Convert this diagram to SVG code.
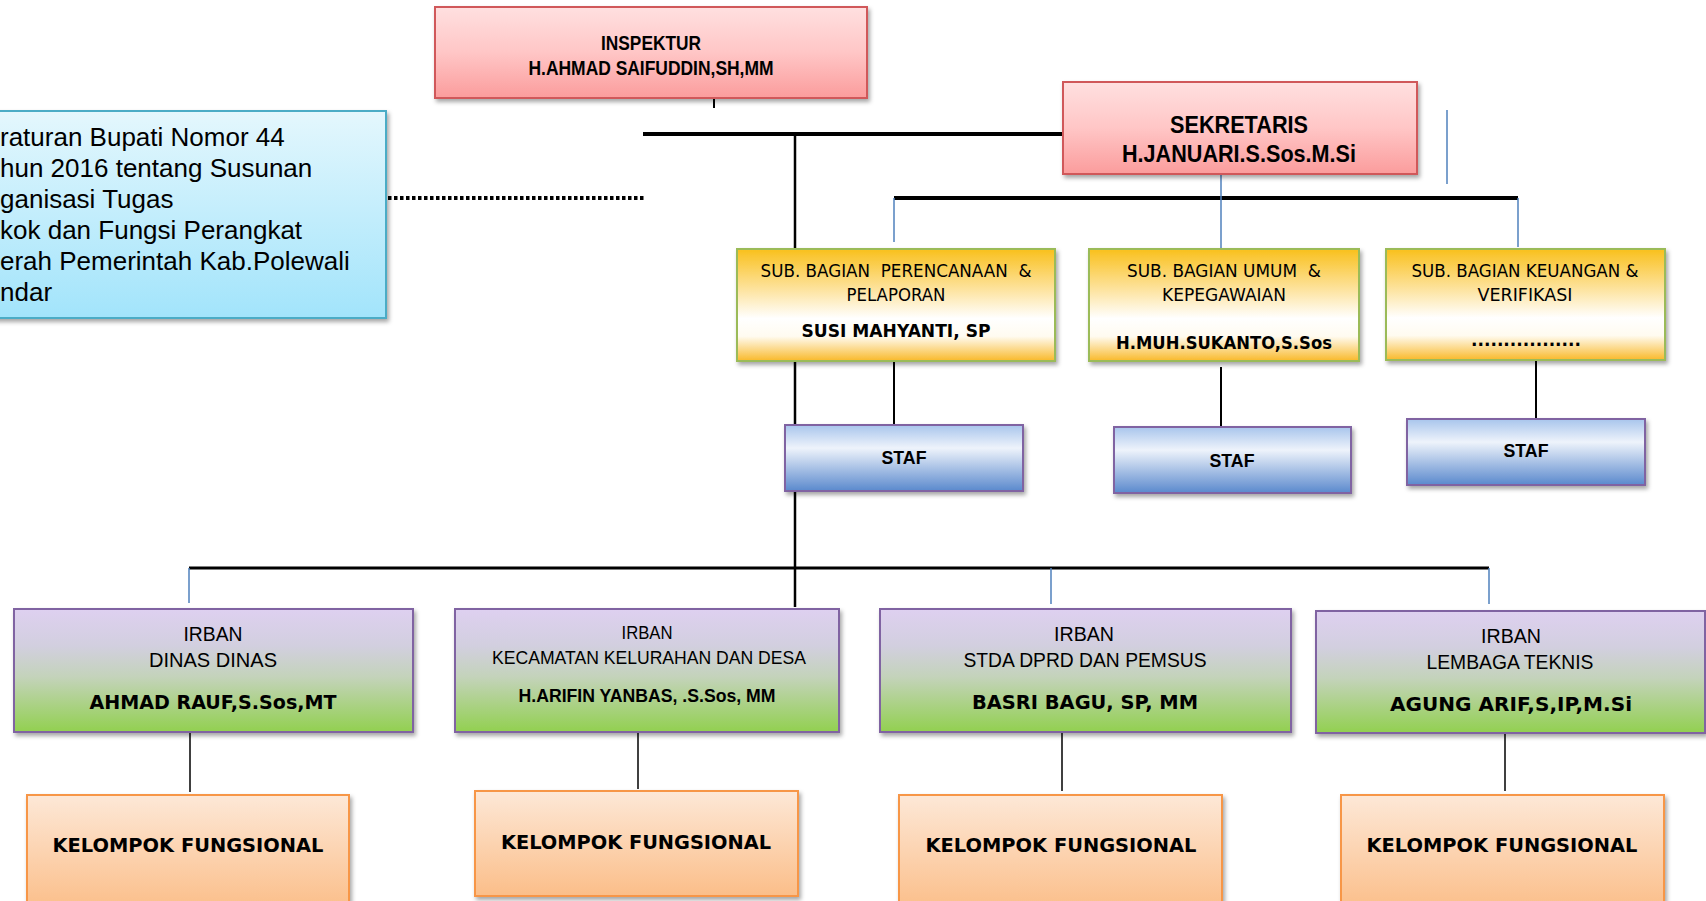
<svg xmlns="http://www.w3.org/2000/svg" width="1706" height="901" viewBox="0 0 1706 901">
<defs>
<linearGradient id="gPink" x1="0" y1="0" x2="0" y2="1"><stop offset="0" stop-color="#ffe0e0"/><stop offset="0.5" stop-color="#ffc6c6"/><stop offset="1" stop-color="#fb9c9c"/></linearGradient>
<linearGradient id="gCyan" x1="0" y1="0" x2="0" y2="1"><stop offset="0" stop-color="#e4f7fd"/><stop offset="1" stop-color="#a2e4fb"/></linearGradient>
<linearGradient id="gGold" x1="0" y1="0" x2="0" y2="1"><stop offset="0" stop-color="#f9c01c"/><stop offset="0.35" stop-color="#fde29a"/><stop offset="0.62" stop-color="#ffffff"/><stop offset="0.78" stop-color="#fffbf0"/><stop offset="1" stop-color="#f9b92a"/></linearGradient>
<linearGradient id="gBlue" x1="0" y1="0" x2="0" y2="1"><stop offset="0" stop-color="#a8c5ec"/><stop offset="0.35" stop-color="#eef3fb"/><stop offset="1" stop-color="#5a89cd"/></linearGradient>
<linearGradient id="gIrban" x1="0" y1="0" x2="0" y2="1"><stop offset="0" stop-color="#ded0f0"/><stop offset="0.3" stop-color="#d2cfdf"/><stop offset="0.55" stop-color="#c4d3bb"/><stop offset="1" stop-color="#92d050"/></linearGradient>
<linearGradient id="gPeach" x1="0" y1="0" x2="0" y2="1"><stop offset="0" stop-color="#fde8d7"/><stop offset="1" stop-color="#fbbe89"/></linearGradient>
<filter id="sh" x="-10%" y="-10%" width="120%" height="130%"><feDropShadow dx="2" dy="3" stdDeviation="2" flood-color="#000" flood-opacity="0.35"/></filter>
</defs>
<style>
.pink{fill:url(#gPink);stroke:#d0595a;stroke-width:2;filter:url(#sh)}
.cyan{fill:url(#gCyan);stroke:#4bacc6;stroke-width:2;filter:url(#sh)}
.gold{fill:url(#gGold);stroke:#9bbb59;stroke-width:2;filter:url(#sh)}
.blue{fill:url(#gBlue);stroke:#8064a2;stroke-width:2;filter:url(#sh)}
.irb{fill:url(#gIrban);stroke:#8064a2;stroke-width:2;filter:url(#sh)}
.peach{fill:url(#gPeach);stroke:#f79646;stroke-width:2;filter:url(#sh)}
text{fill:#000;text-anchor:middle}
.nb{font-family:"Liberation Sans Narrow","Liberation Sans",Arial,sans-serif;font-weight:bold}
.nr{font-family:"Liberation Sans Narrow","Liberation Sans",Arial,sans-serif}
.tr{font-family:"DejaVu Sans",Verdana,sans-serif}
.tb{font-family:"DejaVu Sans",Verdana,sans-serif;font-weight:bold}
.law{font-family:"Liberation Sans",Arial,sans-serif;font-size:26px;text-anchor:start}
.k{stroke:#000;fill:none}
.b{stroke:#4f81bd;stroke-width:1.5;fill:none}
</style>
<g id="connectors">
<line class="k" x1="714" y1="98" x2="714" y2="108" stroke-width="2"/>
<line class="k" x1="643" y1="134" x2="1063" y2="134" stroke-width="4"/>
<line class="k" x1="795" y1="134" x2="795" y2="607" stroke-width="2.5"/>
<line class="k" x1="388" y1="198" x2="644" y2="198" stroke-width="4" stroke-dasharray="3.5 2.5"/>
<line class="k" x1="894" y1="198" x2="1518" y2="198" stroke-width="4"/>
<line class="b" x1="1447" y1="110" x2="1447" y2="184"/>
<line class="b" x1="1221" y1="174" x2="1221" y2="249"/>
<line class="b" x1="894" y1="198" x2="894" y2="242"/>
<line class="b" x1="1518" y1="198" x2="1518" y2="247"/>
<line class="k" x1="894" y1="361" x2="894" y2="424" stroke-width="2"/>
<line class="k" x1="1221" y1="367" x2="1221" y2="428" stroke-width="2"/>
<line class="k" x1="1536" y1="360" x2="1536" y2="420" stroke-width="2"/>
<line class="k" x1="189" y1="568" x2="1489" y2="568" stroke-width="3"/>
<line class="b" x1="189" y1="568" x2="189" y2="603"/>
<line class="b" x1="1051" y1="568" x2="1051" y2="604"/>
<line class="b" x1="1489" y1="568" x2="1489" y2="604"/>
<line class="k" x1="190" y1="732" x2="190" y2="792" stroke-width="1.5"/>
<line class="k" x1="638" y1="728" x2="638" y2="789" stroke-width="1.5"/>
<line class="k" x1="1062" y1="728" x2="1062" y2="791" stroke-width="1.5"/>
<line class="k" x1="1505" y1="730" x2="1505" y2="791" stroke-width="1.5"/>
</g>
<g id="inspektur">
<rect class="pink" x="435" y="7" width="432" height="91"/>
<text class="nb" x="651" y="50" font-size="20" textLength="100" lengthAdjust="spacingAndGlyphs">INSPEKTUR</text>
<text class="nb" x="651" y="75" font-size="20" textLength="245" lengthAdjust="spacingAndGlyphs">H.AHMAD SAIFUDDIN,SH,MM</text>
</g>
<g id="sekretaris">
<rect class="pink" x="1063" y="82" width="354" height="92"/>
<text class="nb" x="1239" y="133" font-size="23" textLength="138" lengthAdjust="spacingAndGlyphs">SEKRETARIS</text>
<text class="nb" x="1239" y="162" font-size="23" textLength="234" lengthAdjust="spacingAndGlyphs">H.JANUARI.S.Sos.M.Si</text>
</g>
<g id="dasar-hukum">
<rect class="cyan" x="-10" y="111" width="396" height="207"/>
<text class="law" x="0" y="146">raturan Bupati Nomor 44</text>
<text class="law" x="0" y="177">hun 2016 tentang Susunan</text>
<text class="law" x="0" y="208">ganisasi Tugas</text>
<text class="law" x="0" y="239">kok dan Fungsi Perangkat</text>
<text class="law" x="0" y="270">erah Pemerintah Kab.Polewali</text>
<text class="law" x="0" y="301">ndar</text>
</g>
<g id="sub-perencanaan">
<rect class="gold" x="737" y="249" width="318" height="112"/>
<text class="tr" x="896" y="277" font-size="17" xml:space="preserve" textLength="271" lengthAdjust="spacingAndGlyphs">SUB. BAGIAN  PERENCANAAN  &amp;</text>
<text class="tr" x="896" y="301" font-size="17" textLength="99" lengthAdjust="spacingAndGlyphs">PELAPORAN</text>
<text class="tb" x="896" y="337" font-size="18" textLength="189" lengthAdjust="spacingAndGlyphs">SUSI MAHYANTI, SP</text>
</g>
<g id="sub-umum">
<rect class="gold" x="1089" y="249" width="270" height="112"/>
<text class="tr" x="1224" y="277" font-size="17" xml:space="preserve" textLength="194" lengthAdjust="spacingAndGlyphs">SUB. BAGIAN UMUM  &amp;</text>
<text class="tr" x="1224" y="301" font-size="17" textLength="124" lengthAdjust="spacingAndGlyphs">KEPEGAWAIAN</text>
<text class="tb" x="1224" y="349" font-size="18" textLength="216" lengthAdjust="spacingAndGlyphs">H.MUH.SUKANTO,S.Sos</text>
</g>
<g id="sub-keuangan">
<rect class="gold" x="1386" y="249" width="279" height="111"/>
<text class="tr" x="1525" y="277" font-size="17" textLength="227" lengthAdjust="spacingAndGlyphs">SUB. BAGIAN KEUANGAN &amp;</text>
<text class="tr" x="1525" y="301" font-size="17" textLength="95" lengthAdjust="spacingAndGlyphs">VERIFIKASI</text>
<text class="tb" x="1526" y="346" font-size="18" textLength="110" lengthAdjust="spacingAndGlyphs">.................</text>
</g>
<g id="staf-1">
<rect class="blue" x="785" y="425" width="238" height="66"/>
<text class="nb" x="904" y="464" font-size="19" textLength="45" lengthAdjust="spacingAndGlyphs">STAF</text>
</g>
<g id="staf-2">
<rect class="blue" x="1114" y="427" width="237" height="66"/>
<text class="nb" x="1232" y="467" font-size="19" textLength="45" lengthAdjust="spacingAndGlyphs">STAF</text>
</g>
<g id="staf-3">
<rect class="blue" x="1407" y="419" width="238" height="66"/>
<text class="nb" x="1526" y="457" font-size="19" textLength="45" lengthAdjust="spacingAndGlyphs">STAF</text>
</g>
<g id="irban-1">
<rect class="irb" x="14" y="609" width="399" height="123"/>
<text class="nr" x="213" y="641" font-size="20" textLength="59" lengthAdjust="spacingAndGlyphs">IRBAN</text>
<text class="nr" x="213" y="667" font-size="20" textLength="128" lengthAdjust="spacingAndGlyphs">DINAS DINAS</text>
<text class="tb" x="213" y="709" font-size="20" textLength="247" lengthAdjust="spacingAndGlyphs">AHMAD RAUF,S.Sos,MT</text>
</g>
<g id="irban-2">
<rect class="irb" x="455" y="609" width="384" height="123"/>
<text class="nr" x="647" y="639" font-size="18" textLength="51" lengthAdjust="spacingAndGlyphs">IRBAN</text>
<text class="nr" x="649" y="664" font-size="18" textLength="314" lengthAdjust="spacingAndGlyphs">KECAMATAN KELURAHAN DAN DESA</text>
<text class="nb" x="647" y="702" font-size="18" textLength="257" lengthAdjust="spacingAndGlyphs">H.ARIFIN YANBAS, .S.Sos, MM</text>
</g>
<g id="irban-3">
<rect class="irb" x="880" y="609" width="411" height="123"/>
<text class="nr" x="1084" y="641" font-size="20" textLength="60" lengthAdjust="spacingAndGlyphs">IRBAN</text>
<text class="nr" x="1085" y="667" font-size="20" textLength="243" lengthAdjust="spacingAndGlyphs">STDA DPRD DAN PEMSUS</text>
<text class="tb" x="1085" y="709" font-size="20" textLength="226" lengthAdjust="spacingAndGlyphs">BASRI BAGU, SP, MM</text>
</g>
<g id="irban-4">
<rect class="irb" x="1316" y="611" width="389" height="122"/>
<text class="nr" x="1511" y="643" font-size="20" textLength="60" lengthAdjust="spacingAndGlyphs">IRBAN</text>
<text class="nr" x="1510" y="669" font-size="20" textLength="167" lengthAdjust="spacingAndGlyphs">LEMBAGA TEKNIS</text>
<text class="tb" x="1511" y="711" font-size="20" textLength="242" lengthAdjust="spacingAndGlyphs">AGUNG ARIF,S,IP,M.Si</text>
</g>
<g id="kelompok-1">
<rect class="peach" x="27" y="795" width="322" height="115"/>
<text class="tb" x="188" y="852" font-size="20" textLength="271" lengthAdjust="spacingAndGlyphs">KELOMPOK FUNGSIONAL</text>
</g>
<g id="kelompok-2">
<rect class="peach" x="475" y="791" width="323" height="105"/>
<text class="tb" x="636" y="849" font-size="20" textLength="270" lengthAdjust="spacingAndGlyphs">KELOMPOK FUNGSIONAL</text>
</g>
<g id="kelompok-3">
<rect class="peach" x="899" y="795" width="323" height="115"/>
<text class="tb" x="1061" y="852" font-size="20" textLength="271" lengthAdjust="spacingAndGlyphs">KELOMPOK FUNGSIONAL</text>
</g>
<g id="kelompok-4">
<rect class="peach" x="1341" y="795" width="323" height="115"/>
<text class="tb" x="1502" y="852" font-size="20" textLength="271" lengthAdjust="spacingAndGlyphs">KELOMPOK FUNGSIONAL</text>
</g>
</svg>
